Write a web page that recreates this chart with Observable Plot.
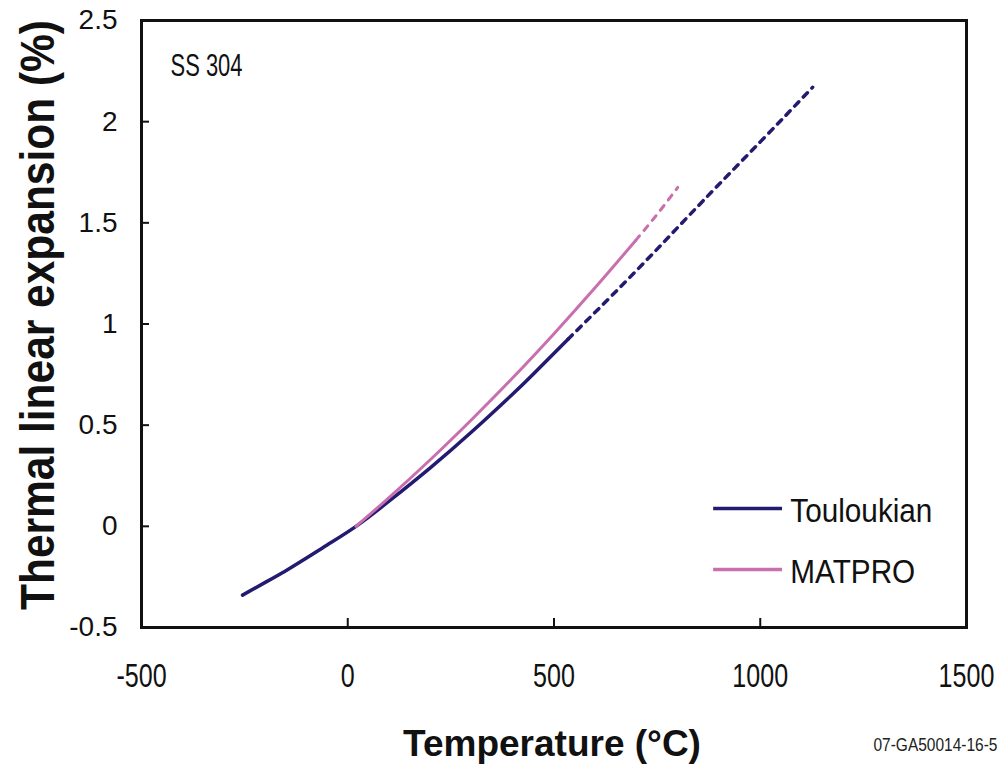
<!DOCTYPE html>
<html>
<head>
<meta charset="utf-8">
<script src="https://cdn.jsdelivr.net/npm/d3@7"></script>
<script src="https://cdn.jsdelivr.net/npm/@observablehq/plot@0.6"></script>
<style>
  html, body { margin: 0; padding: 0; background: #fff; }
  svg { display: block; }
</style>
</head>
<body>
<div id="chart"></div>
<script>
// ---- data ----
const xTicks = [-500, 0, 500, 1000, 1500];
const yTicks = [-0.5, 0, 0.5, 1, 1.5, 2, 2.5];

// Touloukian, measured range (solid)
const toulT = [-255, -200, -150, -100, -50, 20, 100, 200, 300, 400, 450, 534];
const toulY = [-0.34, -0.277, -0.219, -0.157, -0.092, 0, 0.124, 0.289, 0.466, 0.654, 0.753, 0.925];
// Touloukian, extrapolated (dashed)
const toulExtT = [534, 640, 750, 862, 1000, 1127];
const toulExtY = [0.925, 1.14, 1.37, 1.61, 1.9, 2.17];

// MATPRO (solid)
const matT = [20, 100, 200, 300, 400, 500, 600, 698];
const matY = [0, 0.142, 0.329, 0.527, 0.734, 0.952, 1.18, 1.413];
// MATPRO extrapolated (dashed)
const matExtT = [698, 750, 800];
const matExtY = [1.413, 1.542, 1.675];

const seriesNames = ["Touloukian", "MATPRO"];
const seriesColors = ["#231b70", "#c96fae"];

const annotation = "SS 304";
const yTitle = "Thermal linear expansion (%)";
const xTitle = "Temperature (°C)";
const figureId = "07-GA50014-16-5";

// legend placement (data units)
const legendY = [0.088, -0.213];
const legendX1 = 887, legendX2 = 1054, legendTextX = 1073;

const zip = (xs, ys) => xs.map((x, i) => ({x, y: ys[i]}));
const toul = zip(toulT, toulY), toulExt = zip(toulExtT, toulExtY);
const mat = zip(matT, matY), matExt = zip(matExtT, matExtY);
const legend = seriesNames.map((name, i) => ({name, color: seriesColors[i], y: legendY[i]}));

const font = "'Liberation Sans', Arial, Helvetica, sans-serif";
const xPx = 825 / 2000, yPx = 607 / 3;

const chart = Plot.plot({
  width: 1000,
  height: 773,
  marginLeft: 141,
  marginRight: 34,
  marginTop: 20,
  marginBottom: 146,
  x: {domain: [-500, 1500]},
  y: {domain: [-0.5, 2.5]},
  style: {fontFamily: font, background: "#fff", color: "#111", overflow: "visible"},
  marks: [
    Plot.axisY(yTicks, {tickSize: 0, tickPadding: 24, fontSize: 28, tickFormat: d => String(d), label: null}),
    Plot.axisX(xTicks, {tickSize: 0, tickPadding: 36, fontSize: 33, tickFormat: d => String(d), label: null}),
    Plot.ruleY(yTicks.slice(1, -1), {y: d => d, x1: -500, x2: -500 + 8 / xPx, stroke: "#111", strokeWidth: 2}),
    Plot.ruleX(xTicks.slice(1, -1), {x: d => d, y1: -0.5, y2: -0.5 + 9 / yPx, stroke: "#111", strokeWidth: 2}),
    Plot.line(toulExt, {x: "x", y: "y", stroke: seriesColors[0], strokeWidth: 3.5, strokeDasharray: "6,6.5", curve: "natural"}),
    Plot.line(matExt, {x: "x", y: "y", stroke: seriesColors[1], strokeWidth: 3, strokeDasharray: "6,7", curve: "natural"}),
    Plot.line(toul, {x: "x", y: "y", stroke: seriesColors[0], strokeWidth: 3.5, curve: "natural"}),
    Plot.line(mat, {x: "x", y: "y", stroke: seriesColors[1], strokeWidth: 3, curve: "natural"}),
    Plot.frame({stroke: "#111", strokeWidth: 3}),
    Plot.ruleY(legend, {y: "y", x1: legendX1, x2: legendX2, stroke: "color", strokeWidth: 3.5}),
    Plot.text(legend, {x: legendTextX, y: "y", dy: 3, text: "name", textAnchor: "start", fontSize: 33, fill: "#111"}),
    Plot.text([annotation], {frameAnchor: "top-left", dx: 29, dy: 45, textAnchor: "start", lineAnchor: "middle", fontSize: 32, fill: "#111"}),
    Plot.text([yTitle], {frameAnchor: "left", rotate: -90, dx: -103, dy: 286, textAnchor: "start", lineAnchor: "middle", fontSize: 48, fontWeight: "bold", fill: "#111"}),
    Plot.text([xTitle], {frameAnchor: "bottom", dx: -2, dy: 117, lineAnchor: "middle", fontSize: 37, fontWeight: "bold", fill: "#111"}),
    Plot.text([figureId], {frameAnchor: "bottom-right", dx: -93, dy: 118, textAnchor: "start", lineAnchor: "middle", fontSize: 18, fill: "#222"})
  ]
});

document.getElementById("chart").appendChild(chart);

// condense some texts horizontally as in the reference
function condenseText(t, factor, fixed) {
  const len = t.getComputedTextLength();
  t.setAttribute("textLength", fixed != null ? fixed : len * factor);
  t.setAttribute("lengthAdjust", "spacingAndGlyphs");
}
chart.querySelectorAll('g[aria-label="x-axis tick label"] text').forEach(t => condenseText(t, 0.76));
chart.querySelectorAll("text").forEach(t => {
  const s = t.textContent;
  if (seriesNames.includes(s)) condenseText(t, 0.9);
  else if (s === annotation) condenseText(t, null, 72);
  else if (s === yTitle) condenseText(t, null, 590);
  else if (s === figureId) condenseText(t, 0.86);
});
</script>
</body>
</html>
